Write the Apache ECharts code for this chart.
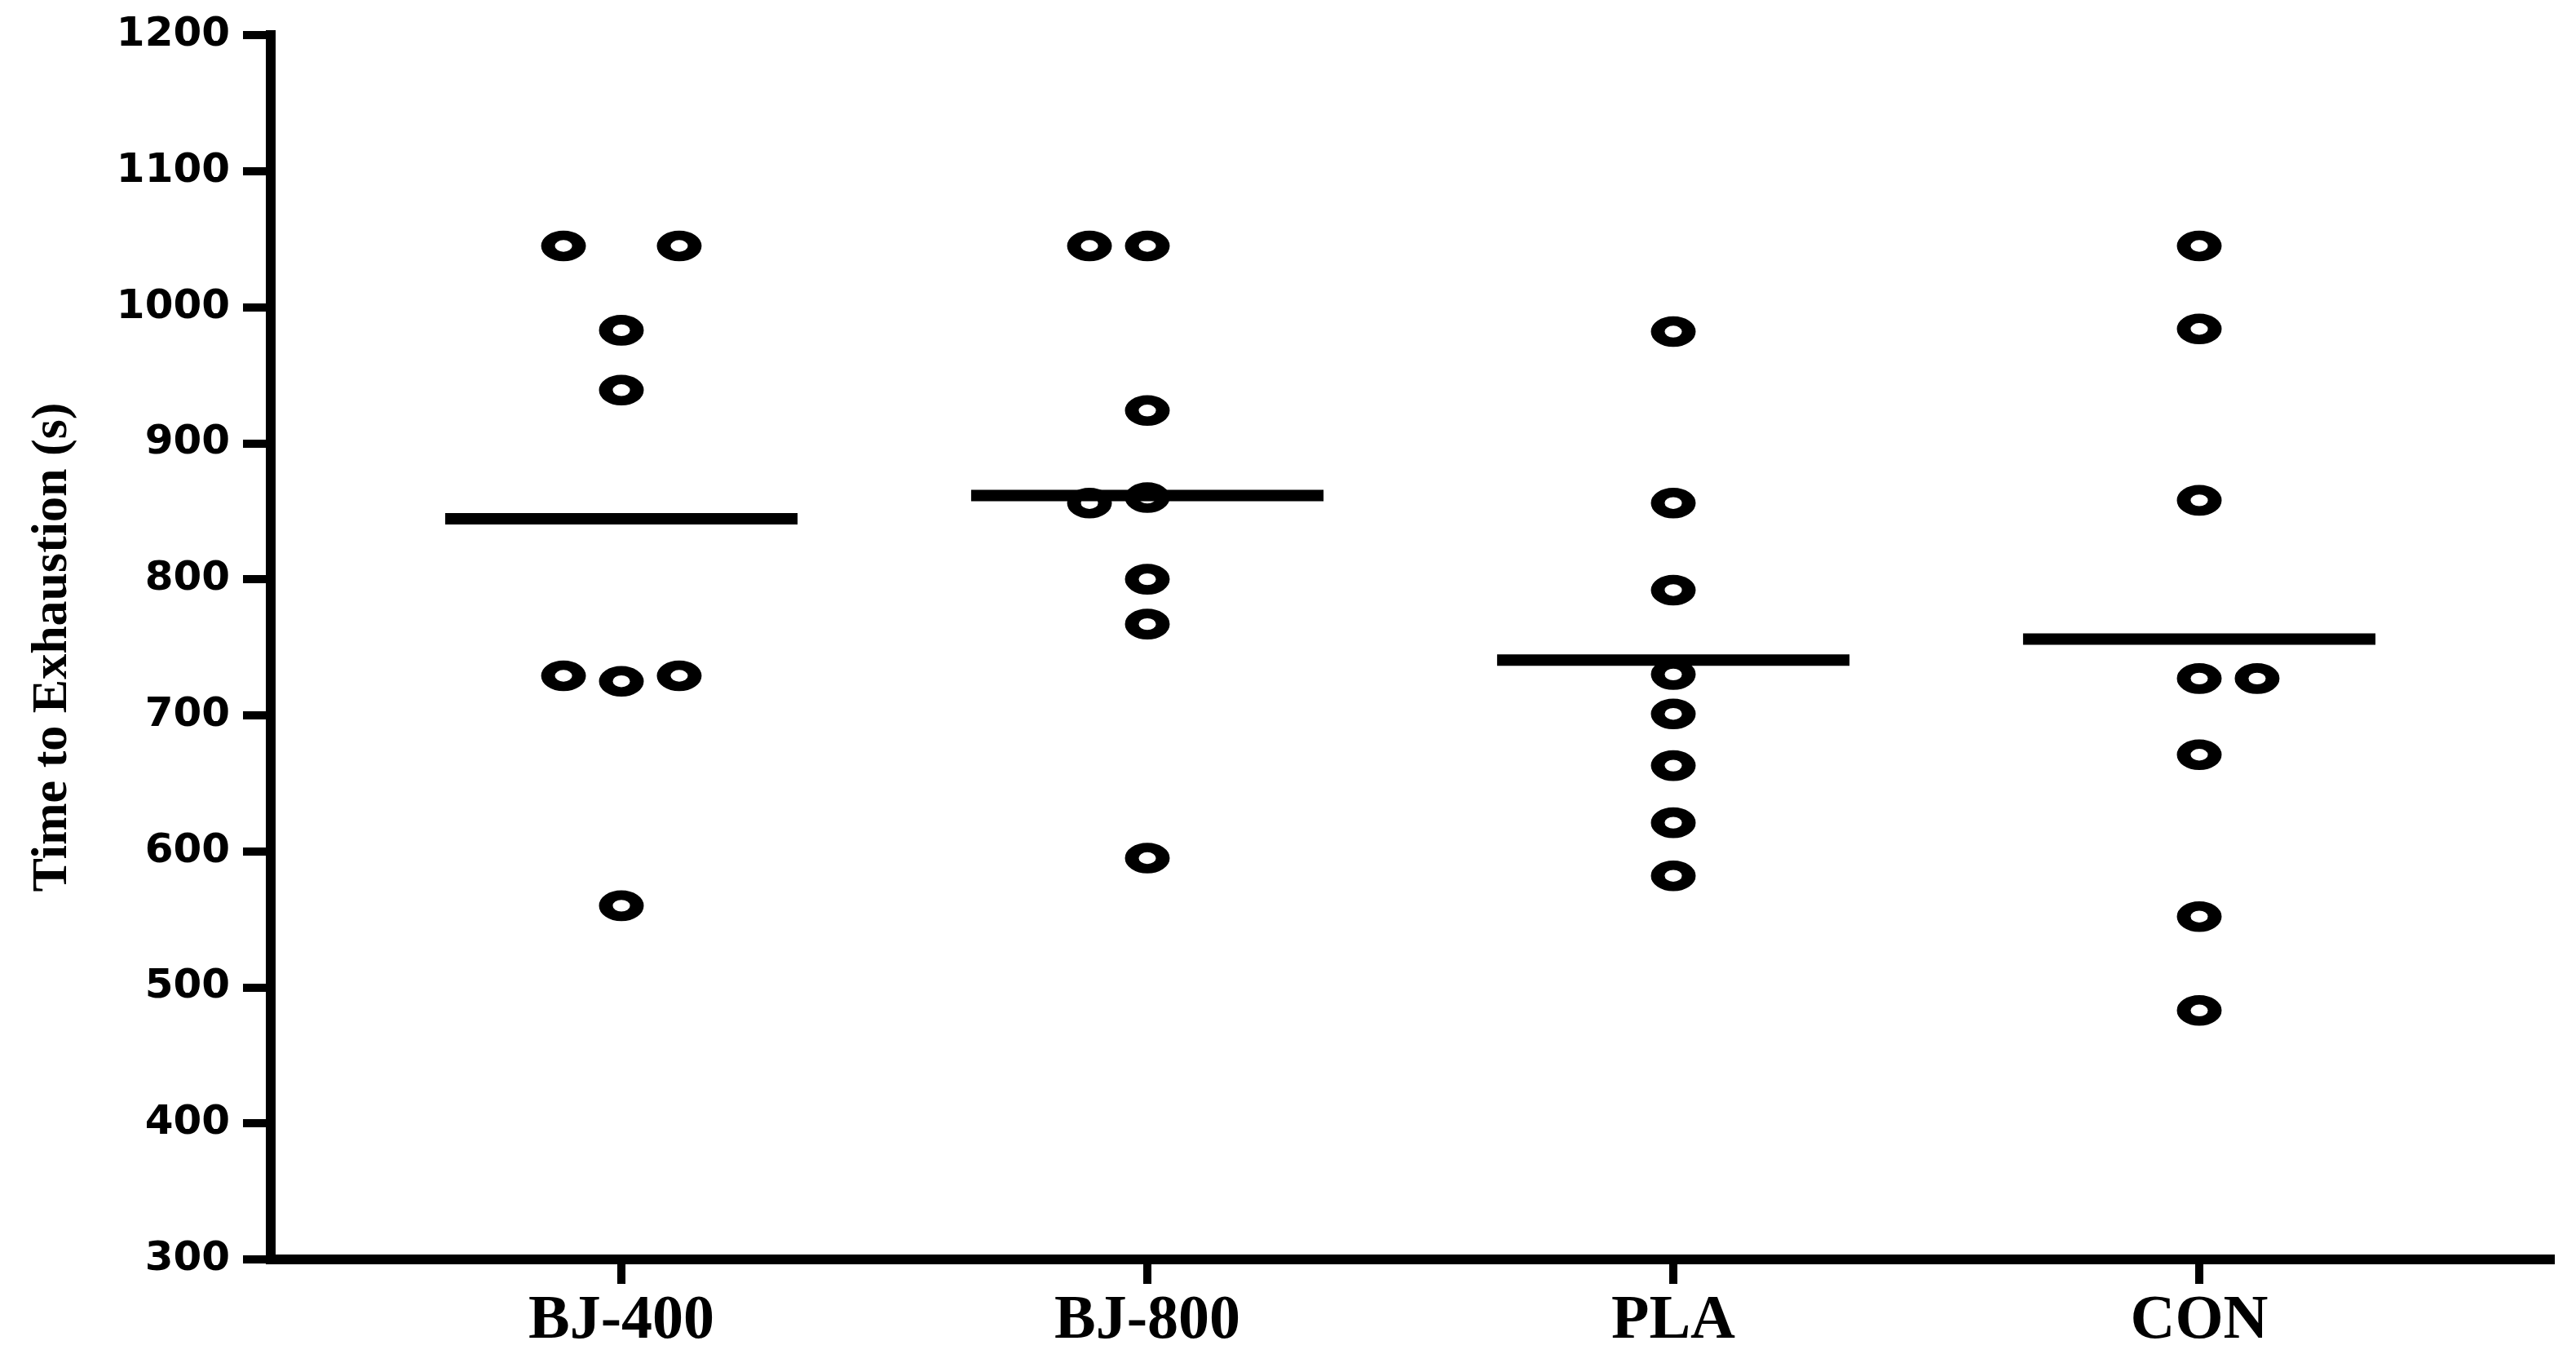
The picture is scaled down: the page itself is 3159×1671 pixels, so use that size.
<!DOCTYPE html>
<html><head><meta charset="utf-8">
<script src="https://cdn.jsdelivr.net/npm/echarts@6/dist/echarts.min.js"></script>
<style>html,body{margin:0;padding:0;background:#fff}#c{width:3159px;height:1671px}</style>
</head><body><div id="c"></div>
<script>
// ---- data ----
const categories = ['BJ-400', 'BJ-800', 'PLA', 'CON'];
const yTicks = [300, 400, 500, 600, 700, 800, 900, 1000, 1100, 1200];

const bj400 = [1045, 1045, 983, 939, 729, 725, 729, 560];
const bj400Slot = [-1, 1, 0, 0, -1, 0, 1, 0];
const bj800 = [1045, 1045, 924, 856, 860, 800, 767, 595];
const bj800Slot = [-1, 0, 0, -1, 0, 0, 0, 0];
const pla = [982, 856, 792, 730, 701, 663, 621, 582];
const plaSlot = [0, 0, 0, 0, 0, 0, 0, 0];
const con = [1045, 984, 858, 727, 727, 671, 552, 483];
const conSlot = [0, 0, 0, 0, 1, 0, 0, 0];

const means = [844.5, 861.5, 740.5, 756];

// ---- drawing ----
const groups = [bj400, bj800, pla, con];
const slots = [bj400Slot, bj800Slot, plaSlot, conSlot];
const JITTER = 0.11;
const HALF = 0.335;

const series = [];
groups.forEach((vals, gi) => {
  series.push({
    type: 'scatter',
    name: categories[gi],
    symbol: 'circle',
    symbolSize: [38, 26],
    itemStyle: { color: '#fff', borderColor: '#000', borderWidth: 14, opacity: 1 },
    z: 2,
    data: vals.map((v, i) => [gi + 1 + slots[gi][i] * JITTER, v])
  });
});
means.forEach((m, gi) => {
  series.push({
    type: 'line',
    symbol: 'none',
    silent: true,
    z: 5,
    lineStyle: { color: '#000', width: 14, cap: 'butt', opacity: 1 },
    data: [[gi + 1 - HALF, m], [gi + 1 + HALF, m]]
  });
});

const catPos = categories.map((c, i) => i + 1);

const chart = echarts.init(document.getElementById('c'), null, { renderer: 'canvas' });
chart.setOption({
  animation: false,
  backgroundColor: '#fff',
  grid: { left: 332, right: 32, top: 43, bottom: 127, containLabel: false, outerBoundsMode: 'none' },
  xAxis: {
    type: 'value',
    min: 1 / 3,
    max: 14 / 3,
    splitLine: { show: false },
    axisLine: { show: true, onZero: false, lineStyle: { color: '#000', width: 12, cap: 'square' } },
    axisTick: { show: true, customValues: catPos, length: 30, lineStyle: { color: '#000', width: 10 } },
    axisLabel: {
      customValues: catPos,
      margin: 38,
      color: '#000',
      fontFamily: 'Liberation Serif',
      fontWeight: 'bold',
      fontSize: 76,
      formatter: v => categories[Math.round(v) - 1]
    }
  },
  yAxis: {
    type: 'value',
    min: 300,
    max: 1200,
    interval: 100,
    splitLine: { show: false },
    name: 'Time to Exhaustion (s)',
    nameLocation: 'middle',
    nameGap: 236,
    nameTextStyle: { color: '#000', fontFamily: 'Liberation Serif', fontWeight: 'bold', fontSize: 62, padding: [0, 0, 0, 0] },
    axisLine: { show: true, lineStyle: { color: '#000', width: 12, cap: 'square' } },
    axisTick: { show: true, customValues: yTicks, length: 34, lineStyle: { color: '#000', width: 10 } },
    axisLabel: {
      customValues: yTicks,
      margin: 50,
      color: '#000',
      fontFamily: 'DejaVu Sans',
      fontWeight: 'bold',
      fontSize: 50,
      formatter: v => String(v)
    }
  },
  series: series
});
</script>
</body></html>
